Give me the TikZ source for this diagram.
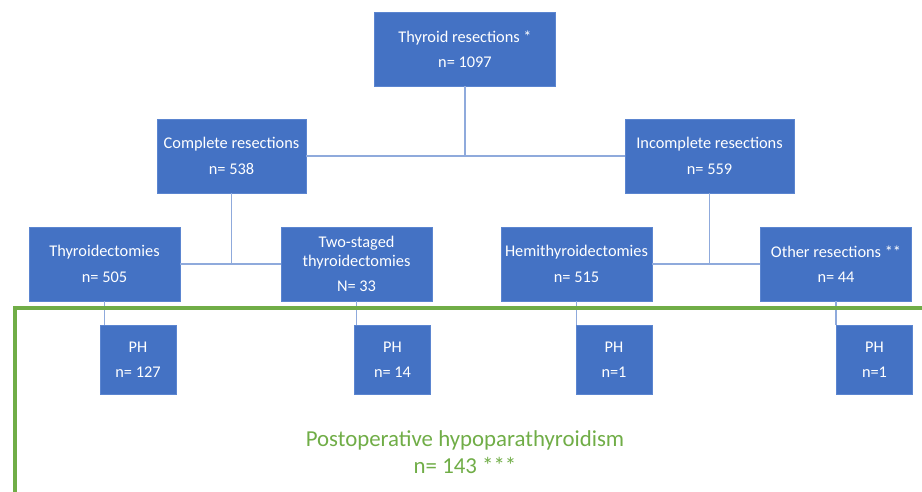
\documentclass[tikz,border=0pt]{standalone}
\usepackage{fontspec}
\setmainfont{Carlito}
\usepackage{xcolor}
\usetikzlibrary{calc,positioning}

\definecolor{boxblue}{HTML}{4472C4}
\definecolor{boxedge}{HTML}{5B85D0}
\definecolor{linkblue}{HTML}{8FAADC}
\definecolor{phgreen}{HTML}{70AD47}

\begin{document}
\begin{tikzpicture}[
    x=0.02cm, y=-0.02cm,
    every node/.style={font=\fontsize{9.3}{10.8}\selectfont},
    box/.style={draw=boxedge, fill=boxblue, text=white, align=center,
        inner sep=0pt, minimum width=3.02cm, minimum height=1.48cm},
    phbox/.style={box, minimum width=1.52cm, minimum height=1.38cm},
    link/.style={draw=linkblue, line width=0.6pt},
    frame/.style={draw=phgreen, line width=2.2pt}
]
\useasboundingbox (0,0) rectangle (922,491);

%------------------------------------------------
% Resections
%------------------------------------------------
\node[box, minimum width=3.62cm] (total) at (465,49)
    {Thyroid resections *\\[3.6pt] n= 1097};
\node[box, minimum width=2.98cm] (complete) at (231.5,156)
    {Complete resections\\[3.6pt] n= 538};
\node[box, minimum width=3.38cm] (incomplete) at (709.5,156)
    {Incomplete resections\\[3.6pt] n= 559};

\foreach \x/\nome/\txt in {
104.5/thyroid/{Thyroidectomies\\[3.6pt] n= 505},
356.5/twostaged/{Two-staged\\thyroidectomies\\[3.6pt] N= 33},
576.5/hemi/{Hemithyroidectomies\\[3.6pt] n= 515},
836/other/{Other resections **\\[3.6pt] n= 44}}
{
    \node[box] (\nome) at (\x,264) {\txt};
}

%------------------------------------------------
% Links
%------------------------------------------------
\draw[link] (complete.east) -- (incomplete.west);
\draw[link] (total.south) -- (total.south |- complete.east);
\draw[link] (thyroid.east) -- (twostaged.west);
\draw[link] (complete.south) -- (complete.south |- thyroid.east);
\draw[link] (hemi.east) -- (other.west);
\draw[link] (incomplete.south) -- (incomplete.south |- hemi.east);

%------------------------------------------------
% PH
%------------------------------------------------
\foreach \x/\nome/\src/\txt in {
138/ph1/thyroid/{n= 127},
392.5/ph2/twostaged/{n= 14},
614/ph3/hemi/{n=1},
874.5/ph4/other/{n=1}}
{
    \node[phbox] (\nome) at (\x,360) {PH\\[3.6pt] \txt};
    \draw[link] (\src.south) -- (\src.south |- \nome.north);
}

% postoperative hypoparathyroidism
\begin{scope}
    \clip (0,0) rectangle (922,491);
    \draw[frame] (15,308) rectangle (960,540);
\end{scope}
\node[text=phgreen, align=center, font=\fontsize{13}{15.3}\selectfont]
    (phtotal) at (465,452) {Postoperative hypoparathyroidism\\n= 143 ***};

\end{tikzpicture}
\end{document}
